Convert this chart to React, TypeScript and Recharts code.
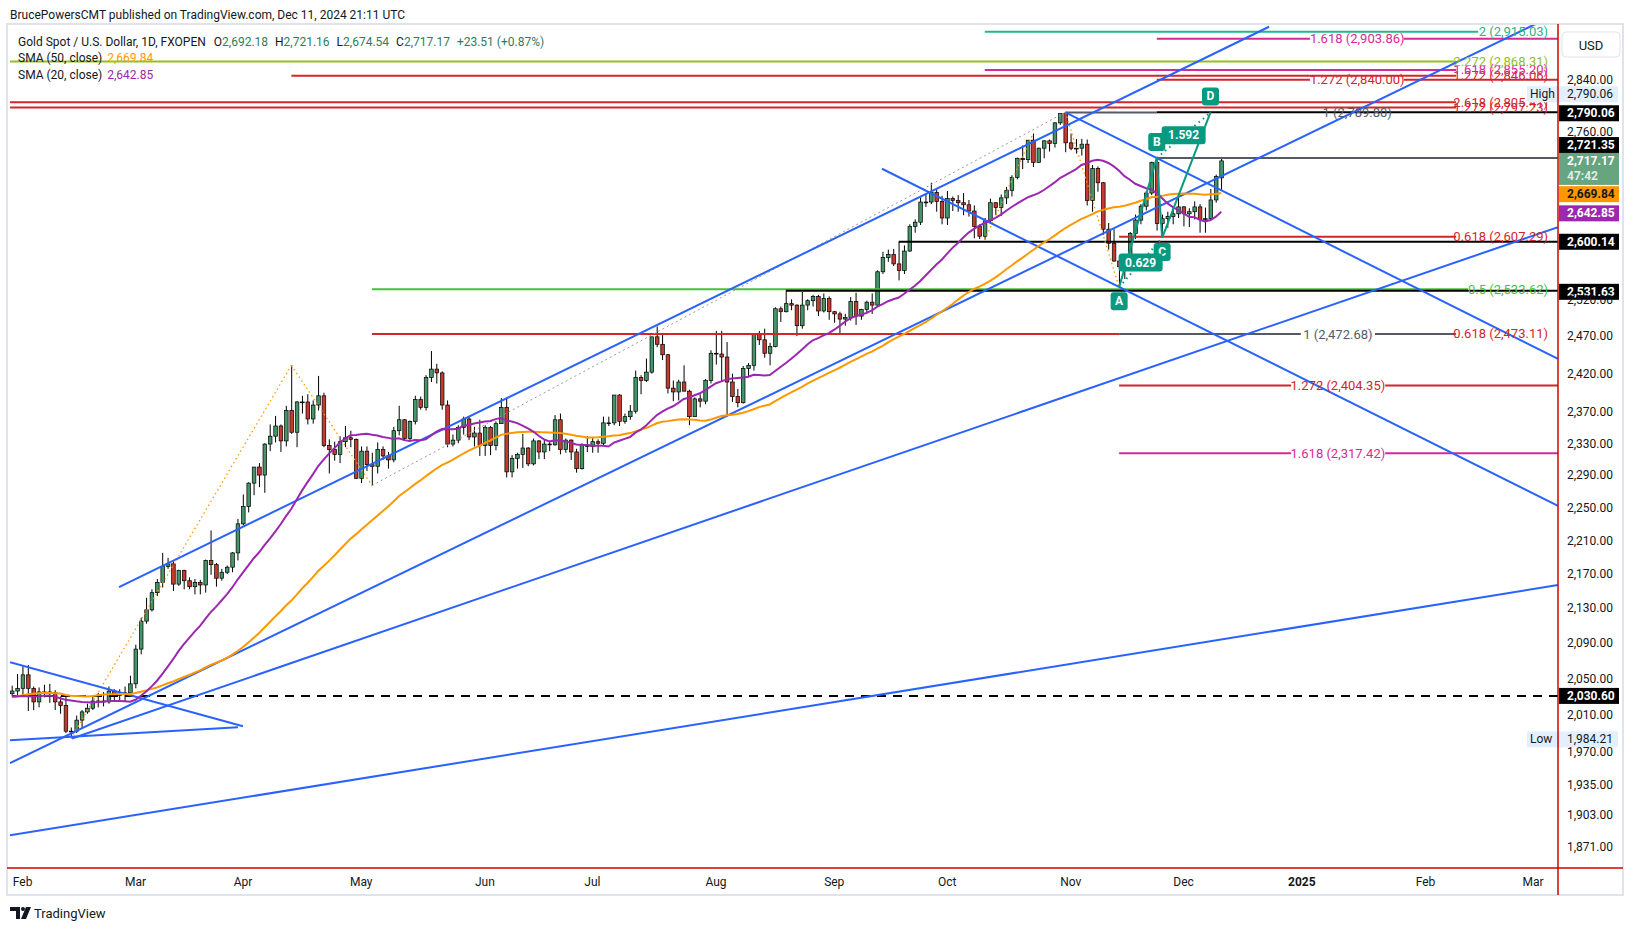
import { ComposedChart, Bar, Line, XAxis, YAxis, ReferenceLine, ReferenceDot } from 'recharts'

type OHLC = [number, number, number, number]
type Level = [number, number, number]
type Pt = [number, number]

const FONT = 'Roboto, "Noto Sans", sans-serif'

// closes before the first visible bar (needed for the moving averages)
const priorCloses = [
  1981, 1978, 1998, 1990, 1992, 2002, 2014, 2041, 2044, 2036,
  2072, 2029, 2019, 2025, 2028, 2005, 1982, 1979, 2027, 2036, 2020, 2027, 2040, 2031, 2046, 2053, 2067, 2078, 2065, 2063,
  2059, 2042, 2044, 2045, 2028, 2030, 2025, 2029, 2049, 2055, 2028, 2006, 2023, 2029, 2021, 2029, 2014, 2020, 2018, 2033,
]

// daily candles [open, high, low, close], Jan 30 2024 .. Dec 11 2024
const jan: OHLC[] = [[2033, 2042, 2030, 2036], [2036, 2055, 2031, 2039]]
const feb: OHLC[] = [
  [2039, 2065, 2031, 2054], [2054, 2065, 2014, 2039], [2039, 2041, 2015, 2024], [2024, 2040, 2018, 2035],
  [2035, 2043, 2029, 2035], [2035, 2044, 2023, 2034], [2034, 2037, 2015, 2024], [2024, 2030, 2011, 2020],
  [2020, 2032, 1990, 1992], [1992, 1996, 1984.21, 1992], [1992, 2009, 1990, 2004], [2004, 2015, 1995, 2013],
  [2013, 2022, 2011, 2017], [2017, 2031, 2015, 2025], [2025, 2034, 2018, 2025], [2025, 2035, 2019, 2024],
  [2024, 2041, 2022, 2036], [2036, 2038, 2025, 2031], [2031, 2038, 2026, 2034], [2034, 2041, 2024, 2034],
  [2034, 2053, 2031, 2044],
]
const mar: OHLC[] = [
  [2044, 2088, 2039, 2083], [2083, 2119, 2077, 2115], [2115, 2142, 2112, 2128], [2128, 2152, 2126, 2148],
  [2148, 2164, 2144, 2160], [2160, 2195, 2154, 2179], [2179, 2189, 2176, 2182], [2182, 2185, 2150, 2158],
  [2158, 2175, 2156, 2174], [2174, 2175, 2152, 2162], [2162, 2166, 2152, 2155], [2155, 2164, 2146, 2160],
  [2160, 2163, 2146, 2157], [2157, 2187, 2148, 2186], [2186, 2222, 2169, 2181], [2181, 2183, 2155, 2165],
  [2165, 2176, 2162, 2172], [2172, 2180, 2170, 2178], [2178, 2196, 2172, 2195], [2195, 2236, 2186, 2230],
]
const apr: OHLC[] = [
  [2230, 2266, 2228, 2251], [2251, 2281, 2244, 2280], [2280, 2300, 2265, 2300], [2300, 2305, 2275, 2290],
  [2290, 2330, 2268, 2329], [2329, 2354, 2320, 2339], [2339, 2365, 2331, 2352], [2352, 2354, 2319, 2333],
  [2333, 2378, 2326, 2372], [2372, 2431, 2342, 2344], [2344, 2384, 2325, 2383], [2383, 2391, 2368, 2383],
  [2383, 2393, 2354, 2361], [2361, 2385, 2355, 2379], [2379, 2417, 2372, 2391], [2391, 2395, 2325, 2327],
  [2327, 2335, 2292, 2322], [2322, 2332, 2308, 2316], [2316, 2339, 2305, 2332], [2332, 2352, 2325, 2337],
  [2337, 2346, 2325, 2335], [2335, 2336, 2285, 2286],
]
const may: OHLC[] = [
  [2286, 2326, 2280, 2320], [2320, 2326, 2295, 2303], [2303, 2318, 2277, 2301], [2301, 2331, 2292, 2322],
  [2322, 2326, 2309, 2314], [2314, 2319, 2298, 2309], [2309, 2351, 2306, 2346], [2346, 2378, 2340, 2360],
  [2360, 2361, 2334, 2336], [2336, 2359, 2332, 2358], [2358, 2391, 2354, 2386], [2386, 2390, 2373, 2376],
  [2376, 2418, 2372, 2415], [2415, 2450, 2409, 2426], [2426, 2433, 2407, 2421], [2421, 2423, 2373, 2379],
  [2379, 2385, 2325, 2329], [2329, 2341, 2326, 2334], [2334, 2353, 2330, 2350], [2350, 2364, 2341, 2361],
  [2361, 2364, 2334, 2338], [2338, 2351, 2326, 2343], [2343, 2360, 2314, 2327],
]
const jun: OHLC[] = [
  [2327, 2353, 2314, 2350], [2350, 2352, 2315, 2327], [2327, 2358, 2321, 2355], [2355, 2388, 2355, 2376],
  [2376, 2388, 2287, 2294], [2294, 2315, 2287, 2311], [2311, 2318, 2298, 2316], [2316, 2342, 2299, 2324],
  [2324, 2325, 2301, 2304], [2304, 2336, 2302, 2333], [2333, 2334, 2310, 2319], [2319, 2334, 2310, 2329],
  [2329, 2333, 2320, 2328], [2328, 2366, 2327, 2360], [2360, 2368, 2316, 2322], [2322, 2336, 2318, 2334],
  [2334, 2335, 2309, 2319], [2319, 2323, 2293, 2298], [2298, 2330, 2297, 2328], [2328, 2339, 2319, 2326],
]
const jul: OHLC[] = [
  [2326, 2338, 2318, 2332], [2332, 2335, 2318, 2330], [2330, 2364, 2327, 2356], [2356, 2364, 2352, 2356],
  [2356, 2392, 2353, 2392], [2392, 2393, 2352, 2358], [2358, 2368, 2355, 2364], [2364, 2379, 2360, 2371],
  [2371, 2424, 2368, 2415], [2415, 2418, 2393, 2411], [2411, 2440, 2409, 2422], [2422, 2469, 2420, 2469],
  [2469, 2483, 2455, 2459], [2459, 2472, 2438, 2445], [2445, 2446, 2394, 2401], [2401, 2411, 2384, 2396],
  [2396, 2412, 2385, 2409], [2409, 2431, 2398, 2397], [2397, 2399, 2353, 2364], [2364, 2389, 2364, 2387],
  [2387, 2393, 2376, 2384], [2384, 2413, 2380, 2411], [2411, 2451, 2407, 2447],
]
const aug: OHLC[] = [
  [2447, 2477, 2432, 2446], [2446, 2477, 2410, 2442], [2442, 2462, 2364, 2409], [2409, 2420, 2383, 2390],
  [2390, 2400, 2376, 2382], [2382, 2430, 2381, 2427], [2427, 2434, 2415, 2431], [2431, 2474, 2424, 2472],
  [2472, 2477, 2458, 2465], [2465, 2480, 2441, 2447], [2447, 2461, 2431, 2456], [2456, 2509, 2455, 2507],
  [2507, 2510, 2489, 2503], [2503, 2531, 2502, 2514], [2514, 2520, 2505, 2512], [2512, 2513, 2470, 2484],
  [2484, 2530, 2480, 2512], [2512, 2520, 2505, 2518], [2518, 2526, 2510, 2524], [2524, 2526, 2497, 2504],
  [2504, 2528, 2502, 2521], [2521, 2524, 2492, 2503],
]
const sep: OHLC[] = [
  [2503, 2504, 2488, 2500], [2500, 2503, 2472, 2493], [2493, 2500, 2484, 2495], [2495, 2523, 2491, 2517],
  [2517, 2529, 2485, 2497], [2497, 2507, 2492, 2506], [2506, 2518, 2500, 2516], [2516, 2528, 2500, 2512],
  [2512, 2560, 2510, 2558], [2558, 2586, 2555, 2578], [2578, 2589, 2572, 2582], [2582, 2590, 2566, 2569],
  [2569, 2600, 2546, 2560], [2560, 2595, 2555, 2587], [2587, 2625, 2586, 2622], [2622, 2632, 2613, 2628],
  [2628, 2664, 2624, 2657], [2657, 2670, 2650, 2657], [2657, 2685, 2654, 2671], [2671, 2675, 2643, 2658],
  [2658, 2666, 2625, 2634],
]
const oct: OHLC[] = [
  [2634, 2673, 2624, 2662], [2662, 2665, 2644, 2659], [2659, 2667, 2643, 2656], [2656, 2670, 2638, 2653],
  [2653, 2660, 2636, 2644], [2644, 2652, 2605, 2622], [2622, 2625, 2604, 2608], [2608, 2634, 2603, 2630],
  [2630, 2662, 2628, 2656], [2656, 2657, 2638, 2649], [2649, 2668, 2637, 2663], [2663, 2679, 2654, 2674],
  [2674, 2696, 2665, 2693], [2693, 2722, 2690, 2721], [2721, 2740, 2705, 2719], [2719, 2748, 2714, 2748],
  [2748, 2758, 2708, 2715], [2715, 2737, 2715, 2736], [2736, 2748, 2721, 2747], [2747, 2749, 2731, 2743],
  [2743, 2775, 2737, 2774], [2774, 2787, 2771, 2788], [2788, 2790.06, 2730, 2744],
]
const nov: OHLC[] = [
  [2744, 2758, 2733, 2736], [2736, 2750, 2728, 2736], [2736, 2750, 2725, 2742], [2742, 2749, 2652, 2659],
  [2659, 2711, 2643, 2706], [2706, 2709, 2672, 2685], [2685, 2686, 2610, 2618], [2618, 2627, 2589, 2598],
  [2598, 2618, 2572, 2573], [2573, 2579, 2536.7, 2565], [2565, 2574, 2548, 2563], [2563, 2614, 2561, 2612],
  [2612, 2639, 2604, 2631], [2631, 2654, 2625, 2651], [2651, 2673, 2645, 2670], [2670, 2716, 2667, 2715],
  [2715, 2721.35, 2616, 2626], [2626, 2639, 2605.5, 2633], [2633, 2643, 2620, 2636], [2636, 2650, 2625, 2640],
  [2640, 2665, 2634, 2650],
]
const dec: OHLC[] = [
  [2650, 2651, 2622, 2640], [2640, 2648, 2621, 2643], [2643, 2658, 2632, 2650], [2650, 2654, 2613, 2632],
  [2632, 2649, 2613, 2633], [2633, 2676, 2631, 2660], [2660, 2697, 2656, 2694], [2692.18, 2721.16, 2674.54, 2717.17],
]

// time axis: bar index of each month start
const monthTicks = [2, 23, 43, 65, 88, 108, 131, 153, 174, 197, 218, 240, 263, 283]
const monthLabels = ['Feb', 'Mar', 'Apr', 'May', 'Jun', 'Jul', 'Aug', 'Sep', 'Oct', 'Nov', 'Dec', '2025', 'Feb', 'Mar']
const priceTicks = [2840, 2760, 2520, 2470, 2420, 2370, 2330, 2290, 2250, 2210, 2170, 2130, 2090, 2050, 2010, 1970, 1935, 1903, 1871]

// drawings, [bar, price] endpoints
const blueLines: [Pt, Pt][] = [
  [[19.93, 2154.5], [233.9, 2923]],
  [[-0.35, 1957.6], [283.74, 2928.6]],
  [[11.18, 1984], [287.65, 2621]],
  [[-0.35, 1882.2], [287.65, 2156.9]],
  [[-0.35, 2068.3], [43.0, 1997.4]],
  [[-0.35, 1982.2], [42.07, 1996.3]],
  [[161.88, 2705.6], [287.65, 2252]],
  [[196, 2790], [287.65, 2439.5]],
]
const zigzag: [Pt, Pt][] = [
  [[11, 1984.21], [52, 2431]],
  [[52, 2431], [67, 2277]],
  [[181, 2603], [190, 2758]],
  [[196, 2790.06], [206, 2536.7]],
]
const dottedTrend: [Pt, Pt] = [[67, 2277], [196, 2790.06]]

const patternBars = [206, 213, 214, 223]
const patternPrices = [2536.7, 2721.35, 2605.5, 2789.8]
const patternNames = ['A', 'B', 'C', 'D']
const patternRatios = ['0.629', '1.592']

// horizontal levels [price, fromBar, toBar]
const blackLevels: Level[] = [[2790.06, 213, 287.65], [2600.14, 165, 287.65], [2531.63, 144, 287.65]]
const grayLevels: Level[] = [[2789.8, 196, 213], [2721.35, 213, 287.65], [2472.68, 206, 239.8], [2472.68, 253.6, 268.7]]
const redLevels: Level[] = [
  [2805.41, -0.35, 268.7], [2797.23, -0.35, 268.7], [2846.06, 52, 268.7], [2840, 213, 241.5], [2840, 259, 287.65],
  [2607.29, 206, 268.7], [2472.68, 67, 206], [2404.35, 206, 238], [2404.35, 255.5, 287.65],
]
const pinkLevels: Level[] = [
  [2855.2, 181, 268.7], [2903.86, 213, 241.5], [2903.86, 259, 287.65], [2317.42, 206, 238], [2317.42, 255.5, 287.65],
]
const limeLevels: Level[] = [[2868.31, -0.35, 268.7]]
const tealLevels: Level[] = [[2915.03, 181, 272.8]]
const greenLevels: Level[] = [[2533.62, 67, 270.9]]

// level captions [text, price, bar]
const endBar = 285.8
const redTexts: [string, number, number][] = [
  ['2.618 (2,805.41)', 2805.41, endBar], ['1.272 (2,797.23)', 2797.23, endBar], ['1.272 (2,846.06)', 2846.06, endBar],
  ['0.618 (2,607.29)', 2607.29, endBar], ['0.618 (2,473.11)', 2473.11, endBar],
  ['1.272 (2,840.00)', 2840, 250.3], ['1.272 (2,404.35)', 2404.35, 246.7],
]
const pinkTexts: [string, number, number][] = [
  ['1.618 (2,855.20)', 2855.2, endBar], ['1.618 (2,903.86)', 2903.86, 250.3], ['1.618 (2,317.42)', 2317.42, 246.7],
]
const grayTexts: [string, number, number][] = [['1 (2,789.80)', 2789.8, 250.3], ['1 (2,472.68)', 2472.68, 246.7]]

const UP = '#459568'
const DOWN = '#c33a2e'
const BLUE = '#2962ff'
const TEAL = '#089981'
const RED = '#d1262b'
const PINK = '#d42a98'
const LAST = 287.65

const candles = [...jan, ...feb, ...mar, ...apr, ...may, ...jun, ...jul, ...aug, ...sep, ...oct, ...nov, ...dec]
const closesAll = [...priorCloses, ...candles.map((c) => c[3])]
const sma = (n: number, i: number) => {
  let s = 0
  for (let k = 0; k < n; k++) s += closesAll[priorCloses.length + i - k]
  return s / n
}
const data = candles.map(([o, h, l, c], i) => ({ i, o, h, l, c, range: [l, h], sma20: sma(20, i), sma50: sma(50, i) }))

const fmt = (v: number) => v.toLocaleString('en-US', { minimumFractionDigits: 2, maximumFractionDigits: 2 })

function Candle(props: any) {
  const { x, y, width, height, payload } = props
  if (!payload || height == null) return null
  const { o, h, l, c } = payload
  const cx = x + width / 2
  const lh = Math.log(h)
  const ll = Math.log(l)
  const py = (v: number) => (lh === ll ? y : y + (height * (lh - Math.log(v))) / (lh - ll))
  const top = py(Math.max(o, c))
  const bot = py(Math.min(o, c))
  return (
    <g>
      <line x1={cx} x2={cx} y1={y} y2={y + height} stroke="#000" strokeWidth={1} />
      <rect x={cx - 1.8} y={top} width={3.6} height={Math.max(bot - top, 0.8)} fill={c >= o ? UP : DOWN} stroke="#000" strokeWidth={0.7} />
    </g>
  )
}

function MonthTick(props: any) {
  const { x, y, payload } = props
  const label = monthLabels[monthTicks.indexOf(payload.value)]
  return (
    <text x={x} y={y + 12} textAnchor="middle" dominantBaseline="central" fontSize={12} fill="#131722"
      fontFamily={FONT} fontWeight={label === '2025' ? 700 : 400}>
      {label}
    </text>
  )
}

const caption = (text: string, color: string, anchor: 'start' | 'middle' | 'end') => (p: any) => (
  <text x={p.cx} y={p.cy} textAnchor={anchor} dominantBaseline="central" fill={color} fontSize={13} fontFamily={FONT}>
    {text}
  </text>
)

const priceBox = (text: string, bg: string, fg: string, dy = 0) => (p: any) => (
  <g>
    <rect x={p.cx + 1} y={p.cy + dy - 8} width={60} height={16} fill={bg} />
    <text x={p.cx + 9} y={p.cy + dy} dominantBaseline="central" fill={fg} fontSize={12} fontWeight={700} fontFamily={FONT}>
      {text}
    </text>
  </g>
)

const hiLoBox = (tag: string, text: string, dy: number) => (p: any) => (
  <g>
    <rect x={p.cx - 31} y={p.cy + dy - 8} width={91} height={16} fill="#e3effd" />
    <text x={p.cx - 28} y={p.cy + dy} dominantBaseline="central" fill="#131722" fontSize={12} fontFamily={FONT}>{tag}</text>
    <text x={p.cx + 9} y={p.cy + dy} dominantBaseline="central" fill="#131722" fontSize={12} fontFamily={FONT}>{text}</text>
  </g>
)

const tag = (text: string, dy: number, w: number) => (p: any) => (
  <g>
    <rect x={p.cx - w / 2} y={p.cy + dy - 9} width={w} height={18} rx={3} fill={TEAL} />
    <text x={p.cx} y={p.cy + dy} textAnchor="middle" dominantBaseline="central" fill="#fff" fontSize={12} fontWeight={700} fontFamily={FONT}>
      {text}
    </text>
  </g>
)

const seg = (a: Pt, b: Pt) => [{ x: a[0], y: a[1] }, { x: b[0], y: b[1] }]

function levelLines(levels: Level[], color: string, key: string, width = 2) {
  return levels.map(([p, a, b], k) => (
    <ReferenceLine key={key + k} segment={seg([a, p], [b, p])} stroke={color} strokeWidth={width} ifOverflow="hidden" />
  ))
}

function captions(list: [string, number, number][], color: string, key: string) {
  return list.map(([t, p, b], k) => (
    <ReferenceDot key={key + k} x={b} y={p} r={0} ifOverflow="visible" shape={caption(t, color, b === endBar ? 'end' : 'middle')} />
  ))
}

export default function App() {
  const pts = patternBars.map((b, k) => [b, patternPrices[k]] as Pt)
  const mid = (a: Pt, b: Pt): Pt => [(a[0] + b[0]) / 2, Math.sqrt(a[1] * b[1])]
  return (
    <div style={{ position: 'absolute', left: 0, top: 0, width: 1634, height: 931, background: '#fff', fontFamily: FONT }}>
      <ComposedChart width={1634} height={931} data={data} margin={{ top: 23, right: 10, bottom: 36, left: 10 }}>
        <XAxis dataKey="i" type="number" domain={[-0.35, LAST]} allowDataOverflow ticks={monthTicks} interval={0}
          height={27} axisLine={false} tickLine={false} tickSize={0} tick={<MonthTick />} />
        <YAxis orientation="right" type="number" scale="log" domain={[1849, 2929]} allowDataOverflow ticks={priceTicks}
          interval={0} width={66} axisLine={false} tickLine={false} tickSize={0} tickMargin={9} tickFormatter={fmt}
          tick={{ fontSize: 12, fill: '#131722', fontFamily: FONT }} />

        {levelLines(redLevels, RED, 'r')}
        {levelLines(pinkLevels, PINK, 'p')}
        {levelLines(limeLevels, '#93c01f', 'l')}
        {levelLines(tealLevels, '#22b98a', 't')}
        {levelLines(greenLevels, '#43c23a', 'g')}
        {levelLines(grayLevels, '#555a66', 'y')}
        {levelLines(blackLevels, '#000', 'b')}
        <ReferenceLine y={2030.6} stroke="#000" strokeWidth={2} strokeDasharray="9 7" />

        <ReferenceLine segment={seg(dottedTrend[0], dottedTrend[1])} stroke="#9a9a9a" strokeWidth={1} strokeDasharray="2 3" ifOverflow="hidden" />
        {zigzag.map(([a, b], k) => (
          <ReferenceLine key={'z' + k} segment={seg(a, b)} stroke="#ff9800" strokeWidth={1.3} strokeDasharray="1.5 3" ifOverflow="hidden" />
        ))}
        {blueLines.map(([a, b], k) => (
          <ReferenceLine key={'bl' + k} segment={seg(a, b)} stroke={BLUE} strokeWidth={2} ifOverflow="hidden" />
        ))}

        <Line dataKey="sma50" stroke="#ff9800" strokeWidth={2} dot={false} activeDot={false} isAnimationActive={false} />
        <Line dataKey="sma20" stroke="#9c27b0" strokeWidth={2} dot={false} activeDot={false} isAnimationActive={false} />
        <Bar dataKey="range" barSize={4} shape={(p: any) => <Candle {...p} />} isAnimationActive={false} />

        <ReferenceLine segment={seg(pts[0], pts[1])} stroke={TEAL} strokeWidth={2} ifOverflow="hidden" />
        <ReferenceLine segment={seg(pts[1], pts[2])} stroke={TEAL} strokeWidth={2} ifOverflow="hidden" />
        <ReferenceLine segment={seg(pts[2], pts[3])} stroke={TEAL} strokeWidth={2} ifOverflow="hidden" />
        <ReferenceLine segment={seg(pts[0], pts[2])} stroke={TEAL} strokeWidth={2} strokeDasharray="1.5 4" ifOverflow="hidden" />
        <ReferenceLine segment={seg(pts[1], pts[3])} stroke={TEAL} strokeWidth={2} strokeDasharray="1.5 4" ifOverflow="hidden" />

        {captions(redTexts, RED, 'rt')}
        {captions(pinkTexts, PINK, 'pt')}
        {captions(grayTexts, '#555a66', 'gt')}
        <ReferenceDot x={endBar} y={2868.31} r={0} ifOverflow="visible" shape={caption('2.272 (2,868.31)', '#93c01f', 'end')} />
        <ReferenceDot x={endBar} y={2915.03} r={0} ifOverflow="visible" shape={caption('2 (2,915.03)', '#22b98a', 'end')} />
        <ReferenceDot x={endBar} y={2533.62} r={0} ifOverflow="visible" shape={caption('0.5 (2,533.62)', '#43c23a', 'end')} />

        {pts.map((pt, k) => (
          <ReferenceDot key={'pn' + k} x={pt[0]} y={pt[1]} r={0} ifOverflow="visible"
            shape={tag(patternNames[k], k === 0 || k === 2 ? 14 : -16, 17)} />
        ))}
        <ReferenceDot x={mid(pts[0], pts[2])[0]} y={mid(pts[0], pts[2])[1]} r={0} ifOverflow="visible" shape={tag(patternRatios[0], 0, 44)} />
        <ReferenceDot x={mid(pts[1], pts[3])[0]} y={mid(pts[1], pts[3])[1]} r={0} ifOverflow="visible" shape={tag(patternRatios[1], 0, 44)} />

        <ReferenceDot x={LAST} y={2790.06} r={0} ifOverflow="visible" shape={hiLoBox('High', '2,790.06', -18)} />
        <ReferenceDot x={LAST} y={2790.06} r={0} ifOverflow="visible" shape={priceBox('2,790.06', '#000', '#fff', 1)} />
        <ReferenceDot x={LAST} y={2721.35} r={0} ifOverflow="visible" shape={priceBox('2,721.35', '#000', '#fff', -13)} />
        <ReferenceDot x={LAST} y={2717.17} r={0} ifOverflow="visible" shape={(p: any) => (
          <g>
            <rect x={p.cx + 1} y={p.cy - 8} width={60} height={32} fill="#67a480" />
            <text x={p.cx + 9} y={p.cy} dominantBaseline="central" fill="#fff" fontSize={12} fontWeight={700} fontFamily={FONT}>2,717.17</text>
            <text x={p.cx + 9} y={p.cy + 15} dominantBaseline="central" fill="#dcefe4" fontSize={12} fontWeight={700} fontFamily={FONT}>47:42</text>
          </g>
        )} />
        <ReferenceDot x={LAST} y={2669.84} r={0} ifOverflow="visible" shape={priceBox('2,669.84', '#ff9800', '#131722', 1)} />
        <ReferenceDot x={LAST} y={2642.85} r={0} ifOverflow="visible" shape={priceBox('2,642.85', '#9c27b0', '#fff', 1.5)} />
        <ReferenceDot x={LAST} y={2600.14} r={0} ifOverflow="visible" shape={priceBox('2,600.14', '#000', '#fff')} />
        <ReferenceDot x={LAST} y={2531.63} r={0} ifOverflow="visible" shape={priceBox('2,531.63', '#000', '#fff', 1)} />
        <ReferenceDot x={LAST} y={2030.6} r={0} ifOverflow="visible" shape={priceBox('2,030.60', '#000', '#fff')} />
        <ReferenceDot x={LAST} y={1984.21} r={0} ifOverflow="visible" shape={hiLoBox('Low', '1,984.21', 1)} />
      </ComposedChart>

      <svg width={1634} height={931} style={{ position: 'absolute', left: 0, top: 0, pointerEvents: 'none' }}>
        <rect x={7} y={24} width={1616} height={871} fill="none" stroke="#e0e3eb" strokeWidth={2} />
        <line x1={7} x2={1623} y1={868} y2={868} stroke="#d40000" strokeWidth={1.5} />
        <line x1={1558} x2={1558} y1={24} y2={895} stroke="#d40000" strokeWidth={1.5} />
        <text x={10} y={15} dominantBaseline="central" fontSize={12} fill="#131722" fontFamily={FONT}>
          BrucePowersCMT published on TradingView.com, Dec 11, 2024 21:11 UTC
        </text>
        <text x={18} y={42} dominantBaseline="central" fontSize={12} fill="#131722" fontFamily={FONT}>
          <tspan>Gold Spot / U.S. Dollar, 1D, FXOPEN</tspan>
          <tspan dx={8}>O</tspan><tspan fill="#2f7d5c">2,692.18</tspan>
          <tspan dx={7}>H</tspan><tspan fill="#2f7d5c">2,721.16</tspan>
          <tspan dx={7}>L</tspan><tspan fill="#2f7d5c">2,674.54</tspan>
          <tspan dx={7}>C</tspan><tspan fill="#2f7d5c">2,717.17</tspan>
          <tspan dx={7} fill="#2f7d5c">+23.51 (+0.87%)</tspan>
        </text>
        <text x={18} y={58} dominantBaseline="central" fontSize={12} fill="#131722" fontFamily={FONT}>
          SMA (50, close)<tspan dx={5} fill="#ff9800">2,669.84</tspan>
        </text>
        <text x={18} y={75} dominantBaseline="central" fontSize={12} fill="#131722" fontFamily={FONT}>
          SMA (20, close)<tspan dx={5} fill="#9c27b0">2,642.85</tspan>
        </text>
        <rect x={1562} y={32} width={58} height={25} rx={4} fill="#fff" stroke="#e0e3eb" />
        <text x={1591} y={45} textAnchor="middle" dominantBaseline="central" fontSize={13} fill="#131722" fontFamily={FONT}>USD</text>
        <path d="M10 907h10v12h-4v-8h-6z" fill="#131722" />
        <circle cx={23} cy={909} r={2} fill="#131722" />
        <path d="M26 907h5l-5 12h-5z" fill="#131722" />
        <text x={34} y={913} dominantBaseline="central" fontSize={13} fill="#131722" fontFamily={FONT}>TradingView</text>
      </svg>
    </div>
  )
}
